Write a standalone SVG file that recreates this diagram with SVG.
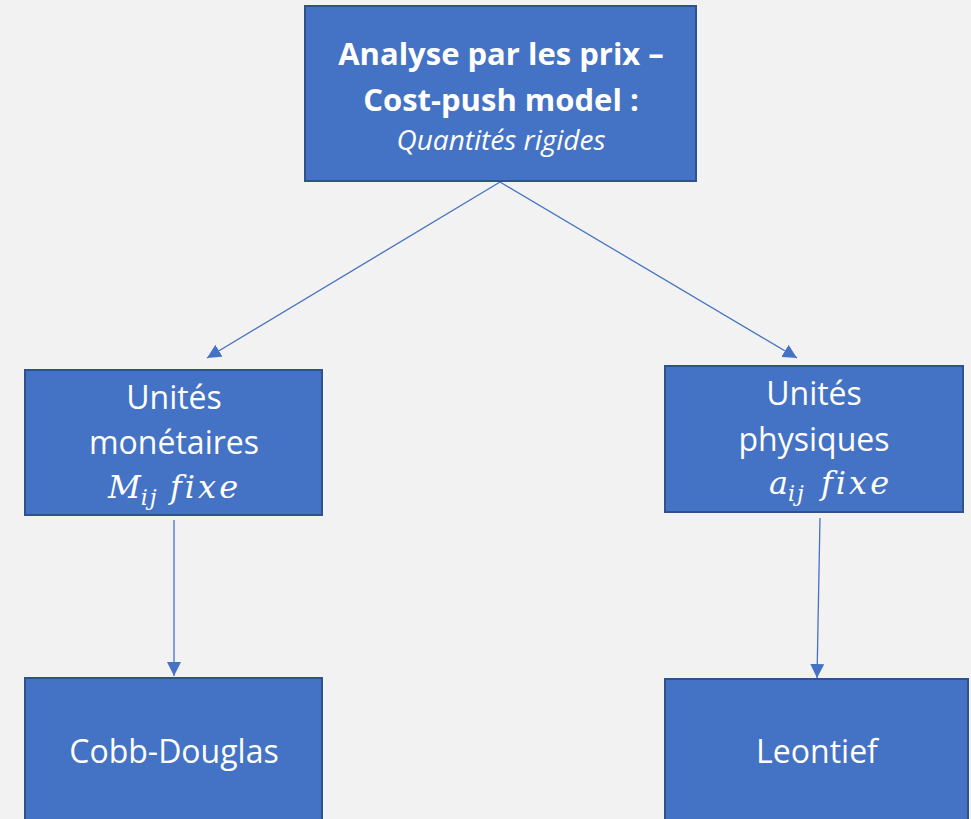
<svg xmlns="http://www.w3.org/2000/svg" width="971" height="819" viewBox="0 0 971 819">
<style>
.box{fill:#4472c4;stroke:#2f528f;stroke-width:2}
.t{fill:#fff;font-family:"Open Sans","Liberation Sans",sans-serif;text-anchor:middle}
.b{font-weight:bold;font-size:31px}
.n{font-size:32px}
.i{font-style:italic;font-size:28px}
.m{fill:#fff;font-family:"DejaVu Serif","Liberation Serif",serif;font-style:italic;font-size:32px}
.sub{font-size:22px;letter-spacing:2px}
.fx{letter-spacing:3px}
.c{stroke:#4472c4;stroke-width:1.3;fill:none}
</style>
<defs>
<marker id="ah" viewBox="0 0 10 10" refX="10" refY="5" markerWidth="14" markerHeight="14" markerUnits="userSpaceOnUse" orient="auto"><path d="M0,0 L10,5 L0,10 z" fill="#4472c4"/></marker>
</defs>
<rect width="971" height="819" fill="#f2f2f2"/>
<g id="connectors">
<line class="c" x1="500" y1="182" x2="207" y2="358" marker-end="url(#ah)"/>
<line class="c" x1="500" y1="182" x2="797" y2="358" marker-end="url(#ah)"/>
<line class="c" x1="174" y1="520" x2="174" y2="676" marker-end="url(#ah)"/>
<line class="c" x1="820" y1="518" x2="817" y2="678" marker-end="url(#ah)"/>
</g>
<g id="top">
<rect class="box" x="305" y="6" width="391" height="175"/>
<text class="t b" x="501" y="65">Analyse par les prix –</text>
<text class="t b" x="501" y="111">Cost-push model :</text>
<text class="t i" x="501" y="150">Quantités rigides</text>
</g>
<g id="monetaires">
<rect class="box" x="25" y="370" width="297" height="145"/>
<text class="t n" x="174" y="409">Unités</text>
<text class="t n" x="174" y="454">monétaires</text>
<text class="m" x="108" y="498">M<tspan class="sub" dy="7">ij</tspan><tspan class="fx" x="170" dy="-7">fixe</tspan></text>
</g>
<g id="physiques">
<rect class="box" x="665" y="366" width="298" height="146"/>
<text class="t n" x="814" y="405">Unités</text>
<text class="t n" x="814" y="451">physiques</text>
<text class="m" x="769" y="494">a<tspan class="sub" dy="7">ij</tspan><tspan class="fx" x="821" dy="-7">fixe</tspan></text>
</g>
<g id="cobb">
<rect class="box" x="25" y="678" width="297" height="150"/>
<text class="t n" x="174" y="763">Cobb-Douglas</text>
</g>
<g id="leontief">
<rect class="box" x="665" y="679" width="303" height="150"/>
<text class="t n" x="817" y="763">Leontief</text>
</g>
</svg>
